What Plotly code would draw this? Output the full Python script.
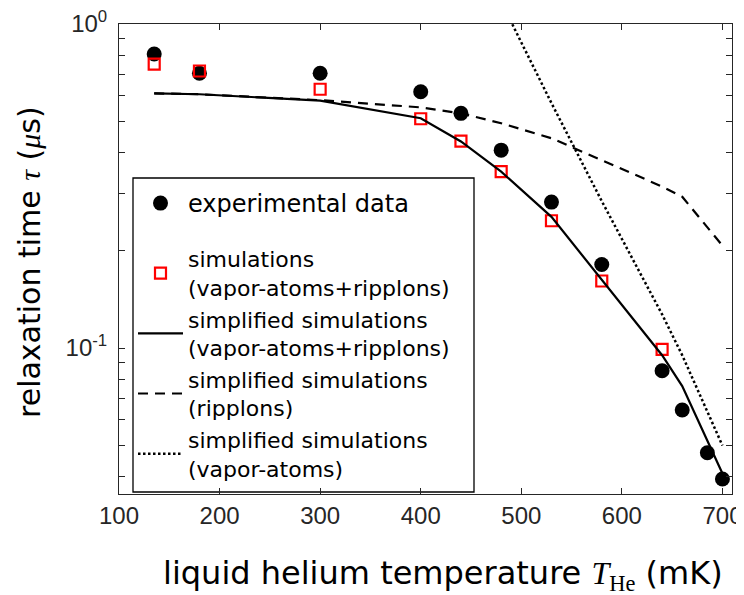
import plotly.graph_objects as go

# ---- data ----
T_exp = [135, 180, 300, 400, 440, 480, 530, 580, 640, 660, 685, 700]
tau_exp = [0.808, 0.705, 0.705, 0.618, 0.530, 0.408, 0.282, 0.181, 0.0851, 0.0644, 0.0475, 0.0394]

T_sim = [135, 180, 300, 400, 440, 480, 530, 580, 640]
tau_sim = [0.752, 0.716, 0.629, 0.510, 0.435, 0.350, 0.247, 0.161, 0.099]

T_line = [135, 180, 300, 400, 440, 480, 530, 580, 640, 660, 700]
tau_both = [0.611, 0.607, 0.580, 0.512, 0.434, 0.350, 0.254, 0.162, 0.095, 0.0763, 0.041]
tau_ripplon = [0.611, 0.607, 0.582, 0.553, 0.530, 0.494, 0.444, 0.380, 0.315, 0.293, 0.207]

T_vapor = [480, 530, 580, 640, 660, 700]
tau_vapor = [1.17, 0.57, 0.284, 0.127, 0.095, 0.050]

x_ticks = [100, 200, 300, 400, 500, 600, 700]
y_ticks = [0.04, 0.05, 0.06, 0.07, 0.08, 0.09, 0.1, 0.2, 0.3, 0.4, 0.5, 0.6, 0.7, 0.8, 0.9, 1.0]
y_ticktext = ["" for _ in y_ticks]
y_ticktext[y_ticks.index(0.1)] = "10<sup>-1</sup>"
y_ticktext[y_ticks.index(1.0)] = "10<sup>0</sup>"

legend_names = [
    "experimental data",
    "simulations<br>(vapor-atoms+ripplons)",
    "simplified simulations<br>(vapor-atoms+ripplons)",
    "simplified simulations<br>(ripplons)",
    "simplified simulations<br>(vapor-atoms)",
]

SANS = "DejaVu Sans"
AX = "#262626"

fig = go.Figure()
fig.add_trace(go.Scatter(x=T_exp, y=tau_exp, mode="markers", name=legend_names[0],
                         marker=dict(symbol="circle", size=15, color="black"), legend="legend"))
fig.add_trace(go.Scatter(x=T_sim, y=tau_sim, mode="markers", name=legend_names[1],
                         marker=dict(symbol="square-open", size=11, color="#ff0000",
                                     line=dict(width=2.2, color="#ff0000")),
                         legend="legend2", legendgroup="g1"))
fig.add_trace(go.Scatter(x=T_line, y=tau_both, mode="lines", name=legend_names[2],
                         line=dict(color="black", width=2.2), legend="legend2", legendgroup="g2"))
fig.add_trace(go.Scatter(x=T_line, y=tau_ripplon, mode="lines", name=legend_names[3],
                         line=dict(color="black", width=2.2, dash="10px,7px"),
                         legend="legend2", legendgroup="g3"))
fig.add_trace(go.Scatter(x=T_vapor, y=tau_vapor, mode="lines", name=legend_names[4],
                         line=dict(color="black", width=2.5, dash="2.5px,2.5px"),
                         legend="legend2", legendgroup="g4"))

# page has an 8px body margin; figure sized to fit the 744x595 window
OFF = 8
W, H = 736, 587
L, R, T, B = 111, 12, 16, 101
pw, ph = W - L - R, H - T - B


def px2paper(x, y):
    """page pixel -> paper coords"""
    return (x - OFF - L) / pw, (H - B - (y - OFF)) / ph


x0, y0 = px2paper(133, 492)
x1, y1 = px2paper(474, 178)
fig.add_shape(type="rect", xref="paper", yref="paper", x0=x0, y0=y0, x1=x1, y1=y1,
              line=dict(color="black", width=1.3), fillcolor="white", layer="below")

lx, ly = px2paper(133, 181)
l2x, l2y = px2paper(133, 238)

fig.update_layout(
    width=W, height=H,
    margin=dict(l=L, r=R, t=T, b=B, autoexpand=False),
    plot_bgcolor="rgba(0,0,0,0)", paper_bgcolor="white",
    showlegend=True,
    legend=dict(x=lx, y=ly, xanchor="left", yanchor="top", bgcolor="rgba(0,0,0,0)",
                borderwidth=0, font=dict(family=SANS, size=24, color="black"),
                itemwidth=45, traceorder="normal"),
    legend2=dict(x=l2x, y=l2y, xanchor="left", yanchor="top", bgcolor="rgba(0,0,0,0)",
                 borderwidth=0, font=dict(family=SANS, size=22, color="black"),
                 itemwidth=45, tracegroupgap=0, traceorder="grouped"),
    xaxis=dict(range=[100, 709.5], tickvals=x_ticks, ticks="inside", ticklen=6,
               tickcolor=AX, linecolor=AX, linewidth=1, mirror="ticks", showgrid=False,
               zeroline=False, ticklabeloverflow="allow",
               tickfont=dict(family="Liberation Sans", size=24, color=AX)),
    yaxis=dict(type="log", range=[-1.4506, 0], tickvals=y_ticks, ticktext=y_ticktext,
               ticks="inside", ticklen=6, tickcolor=AX, linecolor=AX, linewidth=1,
               mirror="ticks", showgrid=False, zeroline=False, ticklabelstandoff=6,
               ticklabeloverflow="allow",
               tickfont=dict(family="Liberation Sans", size=24, color=AX)),
    annotations=[
        dict(text="liquid helium temperature <i style='font-family:Liberation Serif'>T</i>"
                  "<sub><span style='font-family:Liberation Serif'>He</span></sub> (mK)",
             xref="paper", yref="paper", x=px2paper(443, 0)[0], y=px2paper(0, 575)[1],
             xanchor="center", yanchor="middle", showarrow=False,
             font=dict(family=SANS, size=32, color="black")),
        dict(text="relaxation time <i style='font-family:Liberation Serif'>τ</i> "
                  "(<i style='font-family:Liberation Serif'>μ</i>s)",
             xref="paper", yref="paper", x=px2paper(30, 0)[0], y=px2paper(0, 262)[1],
             xanchor="center", yanchor="middle", showarrow=False, textangle=-90,
             font=dict(family=SANS, size=30, color="black")),
    ],
)

fig.write_html("out.html")
